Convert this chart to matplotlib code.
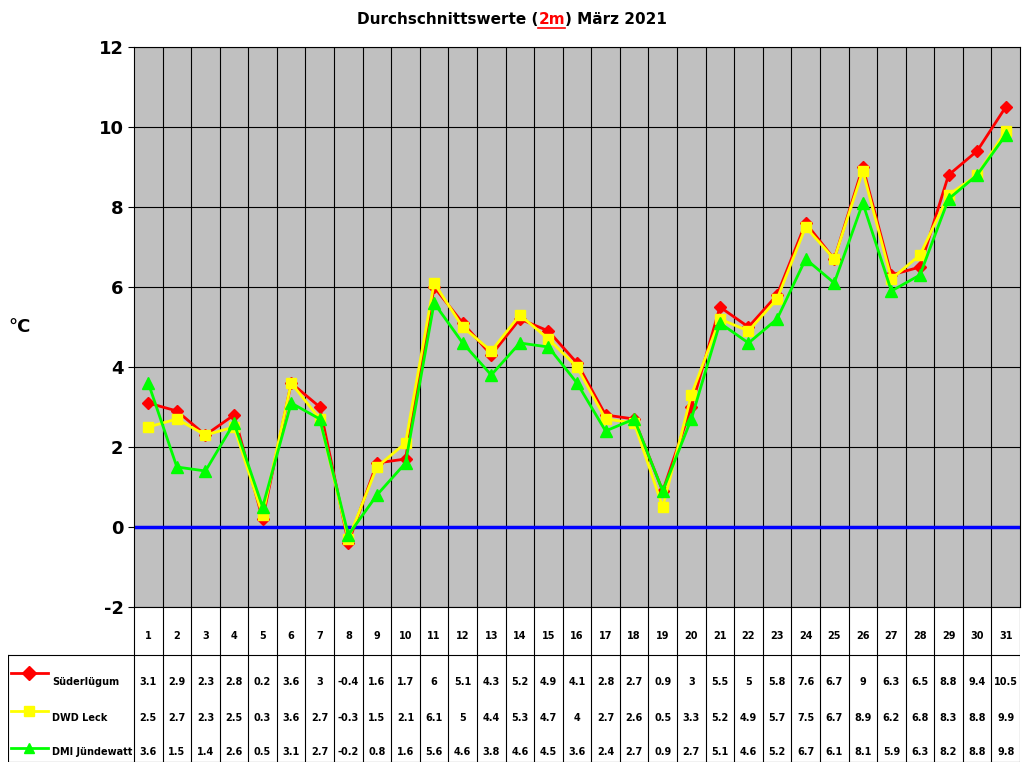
import matplotlib
matplotlib.use("Agg")
import matplotlib.pyplot as plt

plt.rcParams['axes.unicode_minus'] = False

days = list(range(1, 32))
suederluegum = [3.1, 2.9, 2.3, 2.8, 0.2, 3.6, 3, -0.4, 1.6, 1.7, 6, 5.1, 4.3, 5.2, 4.9, 4.1,
                2.8, 2.7, 0.9, 3, 5.5, 5, 5.8, 7.6, 6.7, 9, 6.3, 6.5, 8.8, 9.4, 10.5]
dwd_leck = [2.5, 2.7, 2.3, 2.5, 0.3, 3.6, 2.7, -0.3, 1.5, 2.1, 6.1, 5, 4.4, 5.3, 4.7, 4,
            2.7, 2.6, 0.5, 3.3, 5.2, 4.9, 5.7, 7.5, 6.7, 8.9, 6.2, 6.8, 8.3, 8.8, 9.9]
dmi = [3.6, 1.5, 1.4, 2.6, 0.5, 3.1, 2.7, -0.2, 0.8, 1.6, 5.6, 4.6, 3.8, 4.6, 4.5, 3.6,
       2.4, 2.7, 0.9, 2.7, 5.1, 4.6, 5.2, 6.7, 6.1, 8.1, 5.9, 6.3, 8.2, 8.8, 9.8]
names = ['Süderlügum', 'DWD Leck', 'DMI Jündewatt']
colors = ['#FF0000', '#FFFF00', '#00FF00']
markers = ['D', 's', '^']

W, H = 1024, 768
fig = plt.figure(figsize=(10.24, 7.68), dpi=100)
fig.patch.set_facecolor('white')

def px(x0, y0, x1, y1):
    return [x0 / W, 1 - y1 / H, (x1 - x0) / W, (y1 - y0) / H]

ax = fig.add_axes(px(134, 47, 1020, 607))
ax.set_facecolor('#C0C0C0')
ax.set_xlim(0.5, 31.5)
ax.set_ylim(-2, 12)
for d in range(1, 31):
    ax.axvline(d + 0.5, color='black', lw=0.8, zorder=1)
for y in range(-2, 13, 2):
    ax.axhline(y, color='black', lw=0.8, zorder=1)
ax.axhline(0, color='#0000FF', lw=2.5, zorder=2)
ax.set_xticks([])
ax.set_yticks(range(-2, 13, 2))
ax.tick_params(axis='y', labelsize=13, length=4)
for t in ax.get_yticklabels():
    t.set_fontweight('bold')
for s in ax.spines.values():
    s.set_color('black')

series = [suederluegum, dwd_leck, dmi]
sizes = [6.5, 7, 8.5]
for vals, c, m, ms in zip(series, colors, markers, sizes):
    ax.plot(days, vals, color=c, marker=m, ms=ms, lw=2, zorder=3)

fig.text(8 / W, 1 - 327 / H, '°C', fontsize=13, fontweight='bold', va='center')

# table
tx0 = 8
cw = 886 / 31
tab = fig.add_axes(px(tx0, 607, 1020, 762))
lab_w = (134 - tx0) / cw
tab.set_xlim(0.5 - lab_w, 31.5)
tab.set_ylim(0, 155)
tab.axis('off')
for d in range(0, 32):
    tab.plot([d + 0.5, d + 0.5], [0, 155], color='black', lw=0.8)
left = 0.5 - lab_w
tab.plot([left, left], [0, 107], color='black', lw=0.8)
tab.plot([left, 31.5], [107, 107], color='black', lw=0.8)
tab.plot([left, 31.5], [0, 0], color='black', lw=0.8)
for d in days:
    tab.text(d, 126, str(d), ha='center', va='center', fontsize=7, fontweight='bold')
val_y = [80, 44, 10]
mark_y = [89, 51, 14]
for vals, c, m, name, vy, my in zip(series, colors, markers, names, val_y, mark_y):
    for d, v in zip(days, vals):
        tab.text(d, vy, f'{v:g}', ha='center', va='center', fontsize=7, fontweight='bold')
    lx0 = left + 0.1
    tab.plot([lx0, lx0 + 1.3], [my, my], color=c, lw=2)
    tab.plot([lx0 + 0.65], [my], color=c, marker=m, ms=7)
    tab.text(lx0 + 1.45, vy, name, ha='left', va='center', fontsize=7, fontweight='bold')

# title with red underlined part
fig.canvas.draw()
r = fig.canvas.get_renderer()
parts = [('Durchschnittswerte (', 'black'), ('2m', 'red'), (') März 2021', 'black')]
texts = [fig.text(0, 1 - 20 / H, p, color=c, fontsize=11, fontweight='bold', va='center')
         for p, c in parts]
widths = [t.get_window_extent(r).width for t in texts]
x = (W / 2 - sum(widths) / 2)
for t, w in zip(texts, widths):
    t.set_x(x / W)
    if t.get_color() == 'red':
        fig.add_artist(plt.Line2D([x / W, (x + w) / W], [1 - 28 / H, 1 - 28 / H],
                                  color='red', lw=1.2))
    x += w

fig.savefig('out.png', dpi=100)
